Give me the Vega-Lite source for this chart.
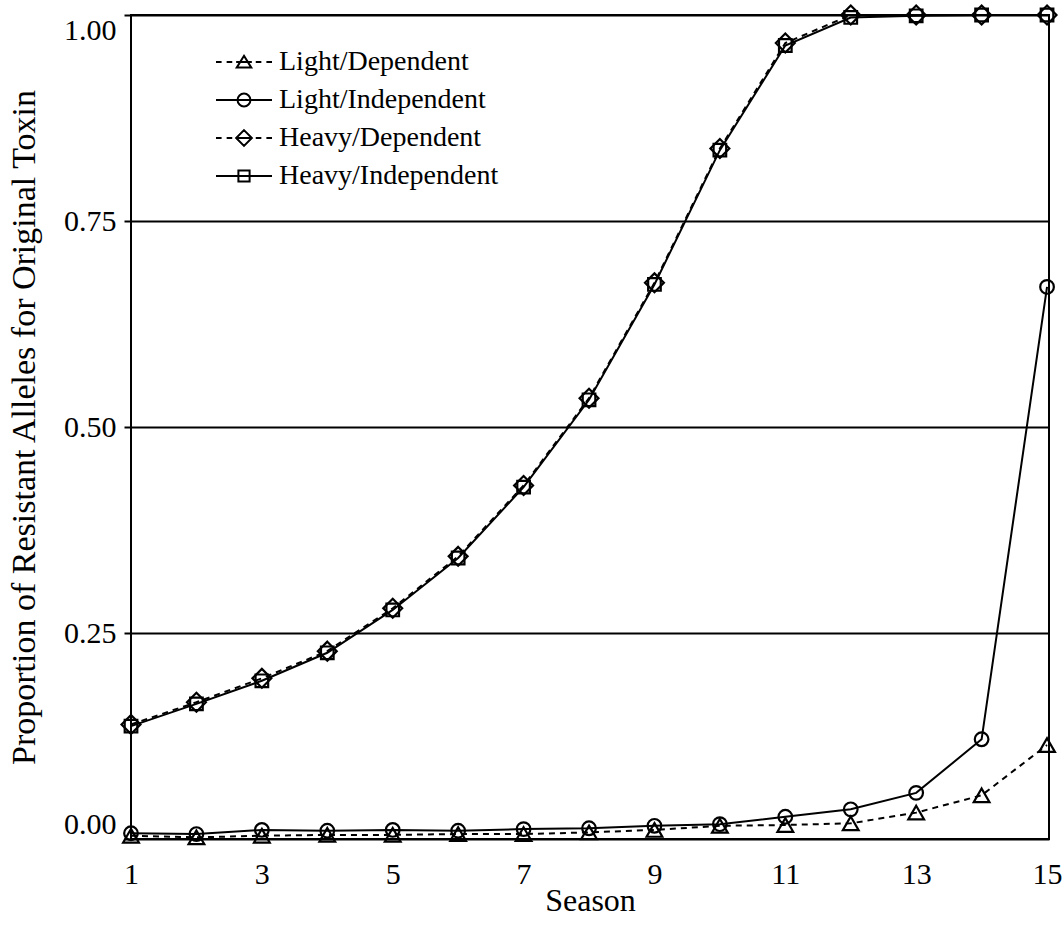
{
  "$schema": "https://vega.github.io/schema/vega-lite/v6.json",
  "width": 918,
  "height": 824,
  "autosize": {"type": "none"},
  "padding": {"left": 131, "top": 15, "right": 14, "bottom": 89},
  "background": "white",
  "config": {
    "view": {"stroke": "black", "strokeWidth": 2},
    "font": "Liberation Serif"
  },
  "data": {
    "values": [
      {"season": 1, "series": "Light/Dependent", "proportion": 0.004},
      {"season": 2, "series": "Light/Dependent", "proportion": 0.002},
      {"season": 3, "series": "Light/Dependent", "proportion": 0.004},
      {"season": 4, "series": "Light/Dependent", "proportion": 0.005},
      {"season": 5, "series": "Light/Dependent", "proportion": 0.005},
      {"season": 6, "series": "Light/Dependent", "proportion": 0.006},
      {"season": 7, "series": "Light/Dependent", "proportion": 0.006},
      {"season": 8, "series": "Light/Dependent", "proportion": 0.008},
      {"season": 9, "series": "Light/Dependent", "proportion": 0.011},
      {"season": 10, "series": "Light/Dependent", "proportion": 0.016},
      {"season": 11, "series": "Light/Dependent", "proportion": 0.017},
      {"season": 12, "series": "Light/Dependent", "proportion": 0.019},
      {"season": 13, "series": "Light/Dependent", "proportion": 0.032},
      {"season": 14, "series": "Light/Dependent", "proportion": 0.053},
      {"season": 15, "series": "Light/Dependent", "proportion": 0.114},
      {"season": 1, "series": "Light/Independent", "proportion": 0.007},
      {"season": 2, "series": "Light/Independent", "proportion": 0.006},
      {"season": 3, "series": "Light/Independent", "proportion": 0.011},
      {"season": 4, "series": "Light/Independent", "proportion": 0.010},
      {"season": 5, "series": "Light/Independent", "proportion": 0.011},
      {"season": 6, "series": "Light/Independent", "proportion": 0.010},
      {"season": 7, "series": "Light/Independent", "proportion": 0.012},
      {"season": 8, "series": "Light/Independent", "proportion": 0.013},
      {"season": 9, "series": "Light/Independent", "proportion": 0.016},
      {"season": 10, "series": "Light/Independent", "proportion": 0.018},
      {"season": 11, "series": "Light/Independent", "proportion": 0.027},
      {"season": 12, "series": "Light/Independent", "proportion": 0.036},
      {"season": 13, "series": "Light/Independent", "proportion": 0.056},
      {"season": 14, "series": "Light/Independent", "proportion": 0.121},
      {"season": 15, "series": "Light/Independent", "proportion": 0.670},
      {"season": 1, "series": "Heavy/Dependent", "proportion": 0.139},
      {"season": 2, "series": "Heavy/Dependent", "proportion": 0.166},
      {"season": 3, "series": "Heavy/Dependent", "proportion": 0.195},
      {"season": 4, "series": "Heavy/Dependent", "proportion": 0.228},
      {"season": 5, "series": "Heavy/Dependent", "proportion": 0.280},
      {"season": 6, "series": "Heavy/Dependent", "proportion": 0.343},
      {"season": 7, "series": "Heavy/Dependent", "proportion": 0.429},
      {"season": 8, "series": "Heavy/Dependent", "proportion": 0.535},
      {"season": 9, "series": "Heavy/Dependent", "proportion": 0.675},
      {"season": 10, "series": "Heavy/Dependent", "proportion": 0.838},
      {"season": 11, "series": "Heavy/Dependent", "proportion": 0.966},
      {"season": 12, "series": "Heavy/Dependent", "proportion": 1.0},
      {"season": 13, "series": "Heavy/Dependent", "proportion": 1.0},
      {"season": 14, "series": "Heavy/Dependent", "proportion": 1.0},
      {"season": 15, "series": "Heavy/Dependent", "proportion": 1.0},
      {"season": 1, "series": "Heavy/Independent", "proportion": 0.137},
      {"season": 2, "series": "Heavy/Independent", "proportion": 0.164},
      {"season": 3, "series": "Heavy/Independent", "proportion": 0.192},
      {"season": 4, "series": "Heavy/Independent", "proportion": 0.226},
      {"season": 5, "series": "Heavy/Independent", "proportion": 0.278},
      {"season": 6, "series": "Heavy/Independent", "proportion": 0.341},
      {"season": 7, "series": "Heavy/Independent", "proportion": 0.427},
      {"season": 8, "series": "Heavy/Independent", "proportion": 0.533},
      {"season": 9, "series": "Heavy/Independent", "proportion": 0.673},
      {"season": 10, "series": "Heavy/Independent", "proportion": 0.836},
      {"season": 11, "series": "Heavy/Independent", "proportion": 0.963},
      {"season": 12, "series": "Heavy/Independent", "proportion": 0.997},
      {"season": 13, "series": "Heavy/Independent", "proportion": 0.999},
      {"season": 14, "series": "Heavy/Independent", "proportion": 1.0},
      {"season": 15, "series": "Heavy/Independent", "proportion": 1.0}
    ]
  },
  "encoding": {
    "x": {
      "field": "season",
      "type": "quantitative",
      "scale": {"domain": [1, 15.03], "nice": false, "zero": false},
      "axis": {
        "values": [1, 3, 5, 7, 9, 11, 13, 15],
        "ticks": false,
        "domain": false,
        "grid": false,
        "labelFlush": false,
        "labelOverlap": false,
        "labelPadding": 20,
        "labelFontSize": 30,
        "labelColor": "black",
        "labelFont": "Liberation Serif",
        "title": "Season",
        "titleFont": "Liberation Serif",
        "titleFontSize": 32,
        "titleFontWeight": "normal",
        "titleColor": "black",
        "titlePadding": -4
      }
    },
    "y": {
      "field": "proportion",
      "type": "quantitative",
      "scale": {"domain": [0, 1], "nice": false},
      "axis": {
        "values": [0, 0.25, 0.5, 0.75, 1],
        "format": ".2f",
        "domain": false,
        "ticks": true,
        "tickSize": 7,
        "tickWidth": 2,
        "tickColor": "black",
        "grid": true,
        "gridColor": "black",
        "gridWidth": 2,
        "gridOpacity": 1,
        "labelFlush": true,
        "labelOverlap": false,
        "labelPadding": 8,
        "labelFontSize": 30,
        "labelColor": "black",
        "labelFont": "Liberation Serif",
        "title": "Proportion of Resistant Alleles for Original Toxin",
        "titleFont": "Liberation Serif",
        "titleFontSize": 34,
        "titleFontWeight": "normal",
        "titleColor": "black",
        "titlePadding": 22
      }
    }
  },
  "layer": [
    {
      "transform": [{"filter": "datum.series === 'Light/Dependent' || datum.series === 'Heavy/Dependent'"}],
      "mark": {"type": "line", "strokeWidth": 2, "color": "black", "strokeDash": [6, 5], "clip": false},
      "encoding": {
        "detail": {"field": "series", "type": "nominal"}
      }
    },
    {
      "transform": [{"filter": "datum.series === 'Light/Independent' || datum.series === 'Heavy/Independent'"}],
      "mark": {"type": "line", "strokeWidth": 2, "color": "black", "clip": false},
      "encoding": {
        "detail": {"field": "series", "type": "nominal"}
      }
    },
    {
      "mark": {"type": "point", "filled": false, "color": "black", "strokeWidth": 2.2, "opacity": 1, "size": 441, "clip": false},
      "encoding": {
        "shape": {
          "field": "series",
          "type": "nominal",
          "scale": {
            "domain": ["Light/Dependent", "Light/Independent", "Heavy/Dependent", "Heavy/Independent"],
            "range": [
              "M0,-0.65L0.75,0.65L-0.75,0.65Z",
              "M0.65,0A0.65,0.65,0,1,1,-0.65,0A0.65,0.65,0,1,1,0.65,0Z",
              "M0,-0.9L0.9,0L0,0.9L-0.9,0Z",
              "M-0.6,-0.6H0.6V0.6H-0.6Z"
            ]
          },
          "legend": null
        }
      }
    },
    {
      "transform": [{"filter": "datum.season > 100"}],
      "mark": {"type": "point", "filled": false, "color": "black", "strokeWidth": 2, "opacity": 1, "clip": false},
      "encoding": {
        "shape": {
          "field": "series",
          "type": "nominal",
          "scale": {
            "domain": ["Light/Dependent", "Light/Independent", "Heavy/Dependent", "Heavy/Independent"],
            "range": [
              "M-1,0H-0.8M-0.62,0H-0.42M-0.28,0H0.28M0.42,0H0.62M0.8,0H1M0,-0.22L0.26,0.2L-0.26,0.2Z",
              "M-1,0H1M0.23,0A0.23,0.23,0,1,1,-0.23,0A0.23,0.23,0,1,1,0.23,0Z",
              "M-1,0H-0.8M-0.62,0H-0.42M-0.28,0H0.28M0.42,0H0.62M0.8,0H1M0,-0.28L0.28,0L0,0.28L-0.28,0Z",
              "M-1,0H1M-0.2,-0.2H0.2V0.2H-0.2Z"
            ]
          },
          "legend": {
            "title": null,
            "orient": "none",
            "legendX": 84,
            "legendY": 28,
            "padding": 0,
            "symbolSize": 3136,
            "clipHeight": 38,
            "rowPadding": 0,
            "labelOffset": 6,
            "labelLimit": 0,
            "labelFontSize": 28,
            "labelFont": "Liberation Serif",
            "labelColor": "black",
            "symbolStrokeColor": "black",
            "symbolStrokeWidth": 2,
            "symbolFillColor": "transparent",
            "symbolOpacity": 1
          }
        }
      }
    }
  ],
  "resolve": {"scale": {"shape": "independent"}, "legend": {"shape": "independent"}}
}
